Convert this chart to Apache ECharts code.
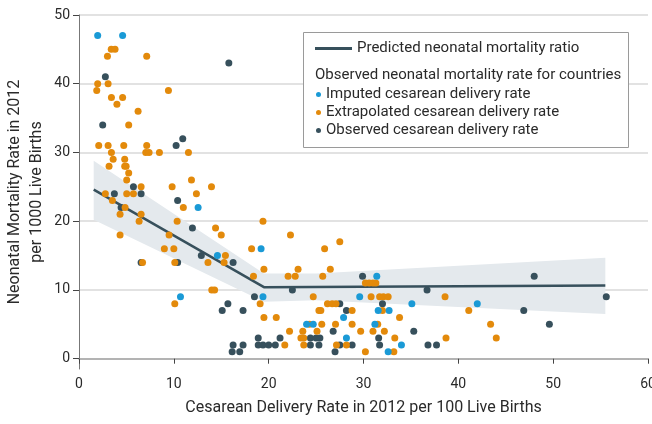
<!DOCTYPE html>
<html><head><meta charset="utf-8">
<script src="https://cdn.jsdelivr.net/npm/echarts@6/dist/echarts.min.js"></script>
<style>html,body{margin:0;padding:0;background:#fff}#c{width:652px;height:424px}</style>
</head><body><div id="c"></div>
<script>
const FONT = 'Roboto';
const yTicks = [0, 10, 20, 30, 40, 50];
const xName = 'Cesarean Delivery Rate in 2012 per 100 Live Births';
const yName = 'Neonatal Mortality Rate in 2012\nper 1000 Live Births';
const lineName = 'Predicted neonatal mortality ratio';
const headerText = 'Observed neonatal mortality rate for countries';
const names = ['Imputed cesarean delivery rate', 'Extrapolated cesarean delivery rate', 'Observed cesarean delivery rate'];

// predicted line and confidence band
const predX = [1.55, 19.5, 55.5];
const predY = [24.6, 10.4, 10.65];
const bandX = [1.55, 19.5, 25, 55.5];
const bandLow = [20.2, 8.3, 8.5, 6.5];
const bandHigh = [28.8, 12.4, 12.4, 14.7];

const imputed = [[1.97,47],[4.6,47],[12.56,22],[19.2,16],[14.6,15],[10.7,9],[19.4,9],[24.0,5],[24.7,5],[31.4,12],[29.6,9],[35.1,8],[42.0,8],[31.55,7],[32.7,7],[27.9,6],[31.2,5],[28.2,3],[34.0,2],[32.6,1]];

const extrapolated = [[3.4,45],[3.8,45],[3.0,44],[7.14,44],[1.97,40],[1.87,39],[3.07,40],[9.43,39],[3.42,38],[4.6,38],[4.0,37],[6.23,36],[5.24,34],[2.08,31],[3.07,31],[4.72,31],[7.14,31],[3.42,30],[7.04,30],[7.39,30],[8.48,30],[11.54,30],[3.6,29],[4.82,29],[3.17,28],[4.82,28],[4.97,28],[5.24,27],[5.03,26],[11.86,26],[6.55,25],[9.82,25],[13.97,25],[2.78,24],[5.03,24],[5.74,24],[12.38,24],[3.52,23],[4.86,22],[11.0,22],[4.33,21],[6.55,21],[6.34,20],[10.35,20],[19.4,20],[14.4,19],[4.33,18],[9.5,18],[15.0,18],[22.3,18],[9.0,16],[10.0,16],[18.2,16],[25.9,16],[15.44,15],[6.7,14],[10.1,14],[13.6,14],[15.3,14],[19.5,13],[23.1,13],[26.5,13],[18.4,12],[22.05,12],[22.8,12],[25.7,12],[14.0,10],[14.3,10],[24.7,9],[10.1,8],[19.1,8],[26.2,8],[25.3,7],[25.5,7],[19.5,6],[20.8,6],[24.3,5],[25.6,5],[22.2,4],[23.6,4],[25.1,4],[23.4,3],[23.7,3],[21.7,2],[23.7,2],
[27.5,17],[30.2,11],[30.6,11],[31.0,11],[31.3,11],[30.8,9],[31.7,9],[32.1,9],[32.6,9],[38.6,9],[26.7,8],[27.1,8],[28.8,7],[32.0,7],[41.1,7],[33.8,6],[27.05,5],[28.8,5],[31.5,5],[43.4,5],[29.7,4],[31.0,4],[32.2,4],[33.3,3],[38.7,3],[44.0,3],[27.15,2],[28.2,2],[30.2,1],[33.2,1]];

const observed = [[15.8,43],[2.78,41],[2.5,34],[10.24,31],[10.94,32],[5.74,25],[3.73,24],[6.55,24],[10.4,23],[4.44,22],[11.96,19],[12.9,15],[6.55,14],[10.4,14],[16.25,14],[22.5,10],[18.5,9],[15.7,8],[15.1,7],[17.3,7],[18.9,3],[21.2,3],[24.4,3],[25.0,3],[25.4,3],[16.25,2],[17.3,2],[18.9,2],[19.4,2],[20.0,2],[20.7,2],[24.4,2],[25.3,2],[16.15,1],[16.95,1],
[29.9,12],[48.0,12],[36.7,10],[55.6,9],[27.5,8],[32.0,8],[28.2,7],[46.9,7],[49.6,5],[26.8,4],[35.3,4],[31.6,3],[27.5,2],[28.8,2],[31.7,2],[36.8,2],[37.7,2],[27.0,1]];

const C_BLUE = '#1a9ad6', C_ORANGE = '#e38a0b', C_DARK = '#37505c';

const bandData = bandX.map((x, i) => [x, bandLow[i], bandHigh[i]]);

const chart = echarts.init(document.getElementById('c'), null, {renderer: 'canvas'});
chart.setOption({
  animation: false,
  textStyle: {fontFamily: FONT},
  grid: {left: 79, right: 4, top: 15, bottom: 55, containLabel: false, outerBoundsMode: 'none'},
  xAxis: {
    type: 'value', min: 0, max: 60, interval: 10,
    name: xName, nameLocation: 'middle', nameGap: 31, nameMoveOverlap: false,
    nameTextStyle: {fontSize: 16, color: '#2a2a2a', fontFamily: FONT},
    axisLine: {show: true, lineStyle: {color: '#9a9a9a', width: 1.5}},
    axisTick: {show: true, length: 5, lineStyle: {color: '#444'}},
    axisLabel: {fontSize: 14, color: '#2a2a2a', margin: 8, fontFamily: FONT},
    splitLine: {show: false}
  },
  yAxis: {
    type: 'value', min: -1.5, max: 50,
    name: yName, nameLocation: 'middle', nameGap: 31, nameMoveOverlap: false,
    nameTextStyle: {fontSize: 16, color: '#2a2a2a', lineHeight: 22, fontFamily: FONT},
    axisLine: {show: true, lineStyle: {color: '#777', width: 1}},
    axisTick: {show: true, length: 6, customValues: yTicks, lineStyle: {color: '#444'}},
    axisLabel: {fontSize: 14, color: '#2a2a2a', margin: 9, customValues: yTicks, fontFamily: FONT},
    splitLine: {show: true, showMinLine: false, lineStyle: {color: '#e2e2e2', width: 2}}
  },
  legend: [
    {data: [lineName], left: 315, top: 41, padding: 0, itemWidth: 37, itemHeight: 3,
     icon: 'rect', selectedMode: false,
     textStyle: {fontSize: 15, color: '#2a2a2a', fontFamily: FONT}},
    {data: names, orient: 'vertical', left: 316, top: 86, padding: 0, itemGap: 1,
     itemWidth: 5, itemHeight: 5, icon: 'circle', selectedMode: false,
     textStyle: {fontSize: 15, lineHeight: 17, color: '#2a2a2a', fontFamily: FONT}}
  ],
  graphic: [
    {type: 'rect', left: 303, top: 32, z: 3, silent: true,
     shape: {width: 325, height: 115}, style: {fill: '#fff', stroke: '#9a9a9a', lineWidth: 1}},
    {type: 'text', left: 315, top: 68, z: 5, silent: true,
     style: {text: headerText, fontSize: 15, fill: '#2a2a2a', fontFamily: FONT}}
  ],
  series: [
    {name: 'band', type: 'custom', silent: true, z: 1, data: bandData,
     encode: {x: 0, y: [1, 2]},
     renderItem: function (params, api) {
       if (params.dataIndex !== 0) return null;
       const upper = bandData.map(d => api.coord([d[0], d[2]]));
       const lower = bandData.map(d => api.coord([d[0], d[1]])).reverse();
       return {type: 'polygon', shape: {points: upper.concat(lower)},
               style: {fill: '#e4e9ed'}};
     }},
    {name: lineName, type: 'line', symbol: 'none', z: 2, color: C_DARK,
     lineStyle: {color: C_DARK, width: 2.5}, data: predX.map((x, i) => [x, predY[i]])},
    {name: names[2], type: 'scatter', symbolSize: 7, z: 3, itemStyle: {color: C_DARK, opacity: 1}, data: observed},
    {name: names[1], type: 'scatter', symbolSize: 7, z: 3, itemStyle: {color: C_ORANGE, opacity: 1}, data: extrapolated},
    {name: names[0], type: 'scatter', symbolSize: 7, z: 3, itemStyle: {color: C_BLUE, opacity: 1}, data: imputed}
  ]
});
</script></body></html>
